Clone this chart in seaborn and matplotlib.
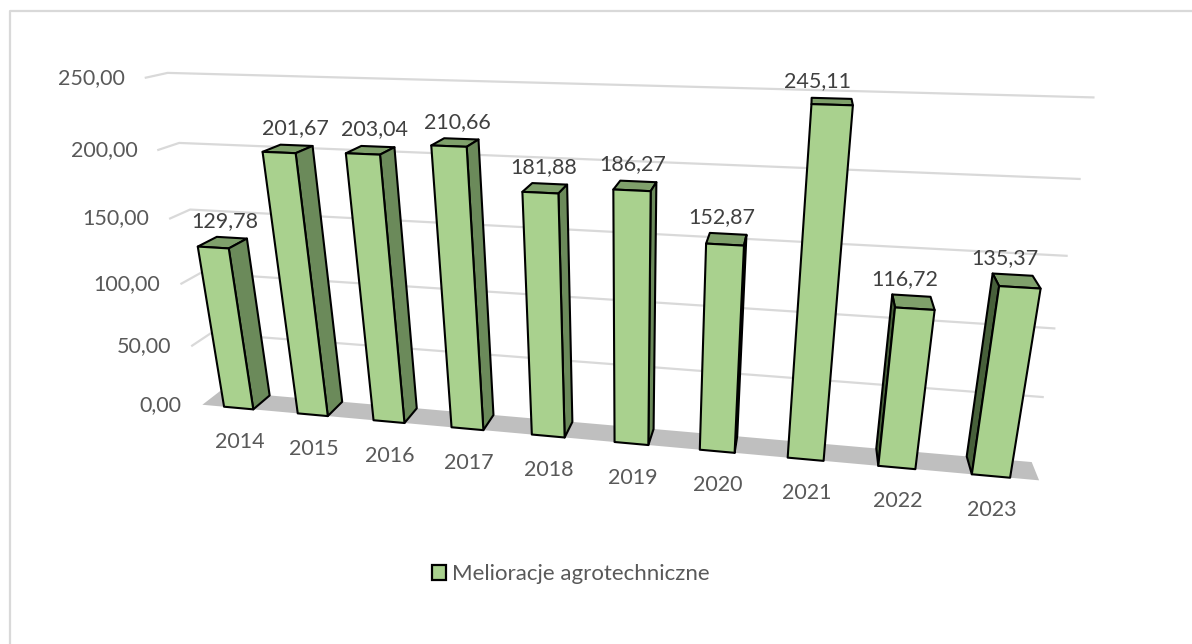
import numpy as np
import pandas as pd
import seaborn as sns
import matplotlib.pyplot as plt
from matplotlib.patches import Polygon, Patch
from matplotlib.transforms import Transform, IdentityTransform

W, H = 1192, 644

years = ['2014', '2015', '2016', '2017', '2018', '2019', '2020', '2021', '2022', '2023']
values = [129.78, 201.67, 203.04, 210.66, 181.88, 186.27, 152.87, 245.11, 116.72, 135.37]
value_labels = ['129,78', '201,67', '203,04', '210,66', '181,88', '186,27', '152,87', '245,11', '116,72', '135,37']
y_ticks = [0, 50, 100, 150, 200, 250]
y_tick_labels = ['0,00', '50,00', '100,00', '150,00', '200,00', '250,00']
series_name = 'Melioracje agrotechniczne'

# sideways shift of each value label, in pixels
label_nudge = [-7, -1, -3, -4, -6, -6, -6, -14, -7, -8]

# perspective camera of the 3D chart: (category, value, depth 0..1) -> picture pixel
CAMERA = np.array([
    [69.71684355245996, -0.29694369711409685, 24.36081991100054, 238.63596694345262],
    [0.8891133197205499, -1.3543318229088954, -2.0797314502749273, 408.0374951539847],
    [-0.013995285743211815, -0.00047415582673365764, 0.02984560577405383, 1.0],
])


def project(x, y, z=0.0):
    x, y, z = np.broadcast_arrays(np.asarray(x, float), np.asarray(y, float), np.asarray(z, float))
    p = np.einsum('ij,j...->i...', CAMERA, np.stack([x, y, z, np.ones_like(x)]))
    return np.stack([p[0] / p[2], H - p[1] / p[2]], axis=-1)


class FrontPlane(Transform):
    input_dims = 2
    output_dims = 2

    def transform_non_affine(self, values):
        values = np.asarray(values, float)
        return project(values[:, 0], values[:, 1])


plt.rcParams['font.family'] = ['Lato', 'DejaVu Sans']
fig = plt.figure(figsize=(W / 100, H / 100), dpi=100, facecolor='white')
ax = fig.add_axes([0, 0, 1, 1])

FRONT_COL, TOP_COL, RIGHT_COL, LEFT_COL = '#A9D18E', '#7FA06B', '#6B8A5A', '#47603A'
EDGE_LW = 1.5

df = pd.DataFrame({'rok': years, 'wartosc': values})
sns.barplot(data=df, x='rok', y='wartosc', width=0.4, color=FRONT_COL, saturation=1,
            edgecolor='black', linewidth=EDGE_LW, zorder=5, ax=ax)
ax.axis('off')

screen = IdentityTransform()


def face(pts, color, zorder=4, lw=EDGE_LW):
    ax.add_patch(Polygon(pts, closed=True, facecolor=color, edgecolor='black' if lw else 'none', linewidth=lw,
                         joinstyle='round', transform=screen, zorder=zorder, clip_on=False))


# floor and gridlines
x_lo, x_hi = -0.5, 9.5
face(project([x_lo, x_hi, x_hi, x_lo], [0, 0, 0, 0], [0, 0, 1, 1]), '#BFBFBF', zorder=2, lw=0)
for tick, lab in zip(y_ticks, y_tick_labels):
    if tick > 0:
        line = project([x_lo, x_lo, x_hi], [tick] * 3, [0, 1, 1])
        ax.plot(line[:, 0], line[:, 1], color='#D9D9D9', lw=1.6, transform=screen, zorder=1, clip_on=False)
    px, py = project(x_lo, tick, 0)
    ax.text(px - 21, py, lab, color='#595959', fontsize=15.5, ha='right', va='center', transform=screen)

# bars: seaborn draws the front faces, sides and tops follow from the same rectangles
front = FrontPlane()
for patch, lab, yr, nudge in zip(ax.patches, value_labels, years, label_nudge):
    x0, bw, h = patch.get_x(), patch.get_width(), patch.get_height()
    x1 = x0 + bw
    patch.set_transform(front)
    patch.set_clip_on(False)
    patch.set_joinstyle('round')
    face(project([x0, x1, x1, x0], [h] * 4, [0, 0, 1, 1]), TOP_COL)
    if project(x1, h, 1)[0] > project(x1, h, 0)[0]:
        face(project([x1, x1, x1, x1], [0, h, h, 0], [0, 0, 1, 1]), RIGHT_COL)
    if project(x0, h, 1)[0] < project(x0, h, 0)[0]:
        face(project([x0, x0, x0, x0], [0, h, h, 0], [0, 0, 1, 1]), LEFT_COL)
    bx, by = project((x0 + x1) / 2, h, 1)
    ax.text(bx + nudge, by + 17, lab, color='#404040', fontsize=15.5, ha='center', va='center',
            transform=screen, zorder=8)
    bx, by = project((x0 + x1) / 2, 0, 0)
    ax.text(bx + 1, by - 34, yr, color='#595959', fontsize=15.5, ha='center', va='center', transform=screen)

ax.legend(handles=[Patch(facecolor=FRONT_COL, edgecolor='black', linewidth=1.6, label=series_name)],
          loc='center', bbox_to_anchor=(570.5 / W, 1 - 574 / H), bbox_transform=fig.transFigure,
          frameon=False, fontsize=16, labelcolor='#595959', handlelength=0.65, handleheight=0.65,
          handletextpad=0.25)

# chart frame
fig.add_artist(plt.Line2D([9.5 / W, 9.5 / W, 1], [0, 1 - 11 / H, 1 - 11 / H], color='#D9D9D9', lw=1.6))

fig.savefig('out.png', dpi=100)
